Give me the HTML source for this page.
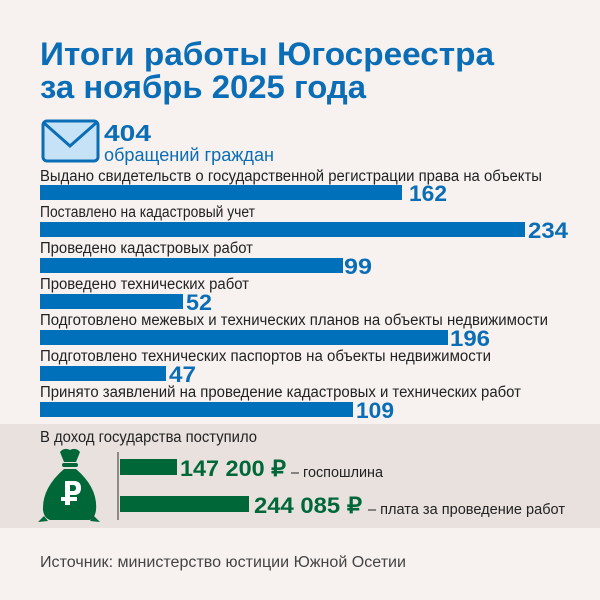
<!DOCTYPE html>
<html><head><meta charset="utf-8"><style>
html,body{margin:0;padding:0;background:#f7f2f0;}
svg{display:block;}
</style></head><body>
<svg width="600" height="600" viewBox="0 0 600 600" xmlns="http://www.w3.org/2000/svg" font-family="'Liberation Sans', sans-serif">
<rect width="600" height="600" fill="#f7f2f0"/>
<g fill="#0a6db6" font-weight="bold" font-size="32">
<text x="40" y="65" textLength="454" lengthAdjust="spacingAndGlyphs">Итоги работы Югосреестра</text>
<text x="40" y="98" textLength="326" lengthAdjust="spacingAndGlyphs">за ноябрь 2025 года</text>
</g>
<!-- envelope -->
<rect x="43" y="121" width="55" height="40" rx="4" fill="#c6e2f7" stroke="#0a6db6" stroke-width="3"/>
<polyline points="44,123 70,146 96,123" fill="none" stroke="#0a6db6" stroke-width="3"/>
<text x="104" y="141" fill="#0a6db6" font-weight="bold" font-size="23" textLength="47" lengthAdjust="spacingAndGlyphs">404</text>
<text x="104" y="161" fill="#0a6db6" font-size="18" textLength="170" lengthAdjust="spacingAndGlyphs">обращений граждан</text>
<g font-size="15.5" fill="#222">
<text x="40" y="181" textLength="502" lengthAdjust="spacingAndGlyphs">Выдано свидетельств о государственной регистрации права на объекты</text>
<text x="40" y="217" textLength="215" lengthAdjust="spacingAndGlyphs">Поставлено на кадастровый учет</text>
<text x="40" y="253" textLength="213" lengthAdjust="spacingAndGlyphs">Проведено кадастровых работ</text>
<text x="40" y="289" textLength="209" lengthAdjust="spacingAndGlyphs">Проведено технических работ</text>
<text x="40" y="325" textLength="508" lengthAdjust="spacingAndGlyphs">Подготовлено межевых и технических планов на объекты недвижимости</text>
<text x="40" y="361" textLength="451" lengthAdjust="spacingAndGlyphs">Подготовлено технических паспортов на объекты недвижимости</text>
<text x="40" y="397" textLength="481" lengthAdjust="spacingAndGlyphs">Принято заявлений на проведение кадастровых и технических работ</text>
</g>
<g fill="#0070bb">
<rect x="40" y="185" width="362" height="15"/>
<rect x="40" y="222" width="485" height="15"/>
<rect x="40" y="258" width="303" height="15"/>
<rect x="40" y="294" width="143" height="15"/>
<rect x="40" y="330" width="408" height="15"/>
<rect x="40" y="366" width="126" height="15"/>
<rect x="40" y="402" width="313" height="15"/>
</g>
<g fill="#0a6db6" font-weight="bold" font-size="22">
<text x="409" y="201" textLength="38" lengthAdjust="spacingAndGlyphs">162</text>
<text x="528" y="238" textLength="40" lengthAdjust="spacingAndGlyphs">234</text>
<text x="344" y="274" textLength="28" lengthAdjust="spacingAndGlyphs">99</text>
<text x="186" y="310" textLength="26" lengthAdjust="spacingAndGlyphs">52</text>
<text x="450" y="346" textLength="40" lengthAdjust="spacingAndGlyphs">196</text>
<text x="169" y="382" textLength="27" lengthAdjust="spacingAndGlyphs">47</text>
<text x="356" y="418" textLength="38" lengthAdjust="spacingAndGlyphs">109</text>
</g>
<rect x="0" y="424" width="600" height="104" fill="#e8e1de"/>
<text x="40" y="442" font-size="15.5" fill="#222" textLength="217" lengthAdjust="spacingAndGlyphs">В доход государства поступило</text>
<!-- money bag -->
<g fill="#006838">
<path d="M60,452 Q64,447 70,450 Q76,447 80,452 L76,462 L64,462 Z"/>
<rect x="62" y="463" width="16" height="4" rx="2"/>
<path d="M64,469 L76,469 Q98,488 96,510 Q95,518 90,520 L50,520 Q44,518 43,510 Q42,488 64,469 Z"/>
<path d="M44,516 L38,522 L48,521 Z M94,516 L100,522 L90,521 Z"/>
</g>
<g fill="#fff">
<rect x="65" y="481" width="5" height="24"/>
<path d="M65,481 L74,481 Q81,481 81,488 Q81,495 74,495 L65,495 L65,491 L73,491 Q76,491 76,488 Q76,485 73,485 L65,485 Z"/>
<rect x="61" y="497" width="16" height="4"/>
</g>
<line x1="118" y1="452" x2="118" y2="520" stroke="#333" stroke-width="1"/>
<rect x="120" y="459" width="57" height="16" fill="#006838"/>
<rect x="120" y="496" width="129" height="16" fill="#006838"/>
<g fill="#006838" font-weight="bold" font-size="22">
<text x="180" y="476" textLength="106" lengthAdjust="spacingAndGlyphs">147 200 ₽</text>
<text x="254" y="513" textLength="108" lengthAdjust="spacingAndGlyphs">244 085 ₽</text>
</g>
<g fill="#222" font-size="15">
<text x="291" y="477" textLength="92" lengthAdjust="spacingAndGlyphs">– госпошлина</text>
<text x="368" y="514" textLength="197" lengthAdjust="spacingAndGlyphs">– плата за проведение работ</text>
</g>
<text x="40" y="567" font-size="15.5" fill="#444" textLength="366" lengthAdjust="spacingAndGlyphs">Источник: министерство юстиции Южной Осетии</text>
</svg>
</body></html>
